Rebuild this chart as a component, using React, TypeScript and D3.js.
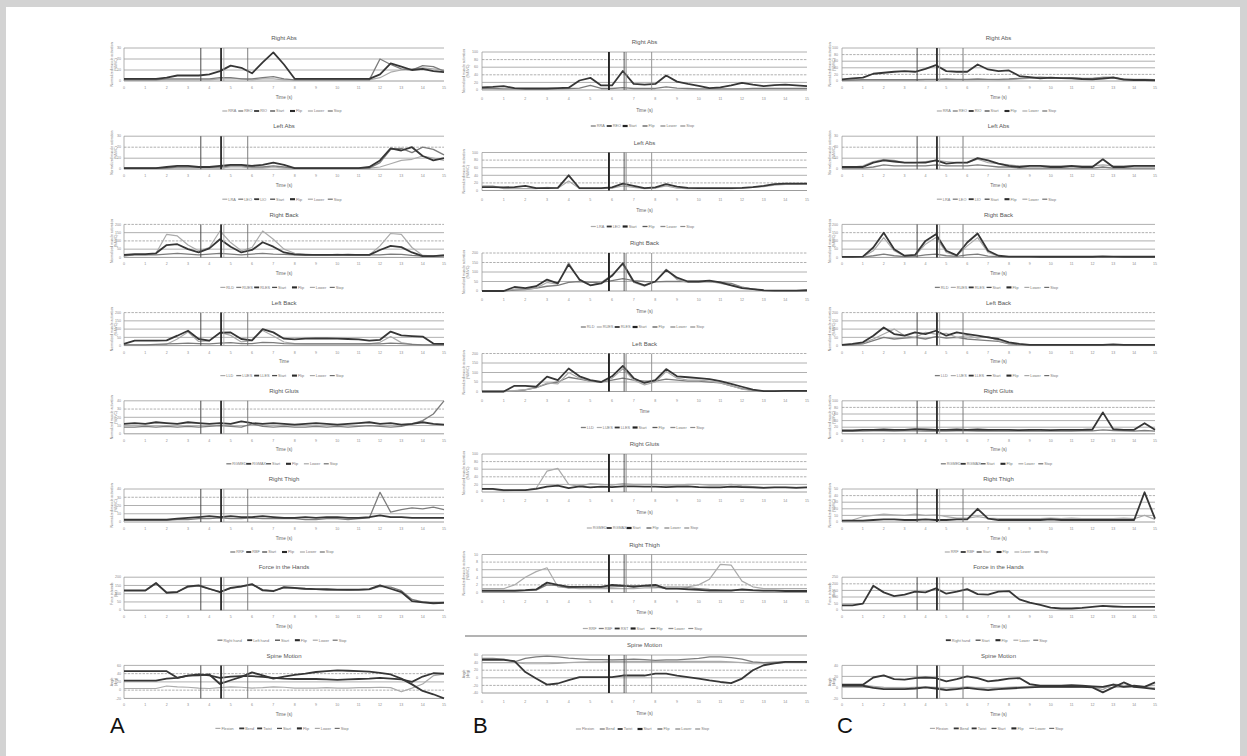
import React from 'react';
import * as d3 from 'd3';

// time base (s) shared by every trace, and the x tick labels
const times = [0, 0.5, 1, 1.5, 2, 2.5, 3, 3.5, 4, 4.5, 5, 5.5, 6, 6.5, 7, 7.5, 8, 8.5, 9, 9.5, 10, 10.5, 11, 11.5, 12, 12.5, 13, 13.5, 14, 14.5, 15];
const xTicks = [0, 1, 2, 3, 4, 5, 6, 7, 8, 9, 10, 11, 12, 13, 14, 15];

// lift events: Start, Flip, Lower, Stop
const eventNames = ['Start', 'Flip', 'Lower', 'Stop'];
const eventsAC = [3.6, 4.55, 4.68, 5.8];
const eventsB = [5.86, 6.56, 6.65, 7.83];

// ---- column A ----
const aRAbs1 = [2, 2, 2, 2, 3, 5, 5, 5, 6, 9, 14, 12, 7, 17, 26, 15, 2, 2, 2, 2, 2, 2, 2, 2, 6, 16, 13, 10, 11, 9, 8];
const aRAbs2 = [1, 1, 1, 1, 2, 2, 2, 2, 2, 3, 3, 2, 2, 3, 4, 2, 1, 1, 1, 1, 1, 1, 1, 1, 20, 15, 11, 10, 14, 13, 9];
const aRAbs3 = [1, 1, 1, 1, 1, 1, 1, 1, 1, 2, 2, 2, 1, 2, 2, 1, 1, 1, 1, 1, 1, 1, 1, 1, 3, 8, 10, 11, 12, 11, 10];
const aLAbs1 = [1, 1, 1, 1, 2, 3, 3, 2, 2, 3, 4, 4, 3, 4, 6, 4, 1, 1, 1, 1, 1, 1, 1, 2, 8, 19, 17, 20, 12, 8, 10];
const aLAbs2 = [1, 1, 1, 1, 1, 2, 2, 2, 2, 2, 3, 3, 2, 2, 3, 2, 1, 1, 1, 1, 1, 1, 1, 1, 6, 18, 19, 15, 20, 18, 13];
const aLAbs3 = [1, 1, 1, 1, 1, 1, 1, 1, 1, 1, 2, 2, 1, 1, 2, 1, 1, 1, 1, 1, 1, 1, 1, 1, 2, 5, 8, 9, 12, 10, 8];
const aRBack1 = [10, 15, 15, 25, 140, 130, 75, 40, 60, 160, 90, 40, 60, 160, 110, 50, 25, 20, 15, 15, 15, 20, 15, 15, 70, 145, 140, 60, 12, 10, 15];
const aRBack2 = [15, 20, 20, 25, 75, 80, 50, 30, 55, 110, 65, 30, 45, 92, 65, 30, 18, 15, 15, 15, 15, 15, 15, 15, 45, 70, 62, 30, 8, 8, 12];
const aRBack3 = [10, 15, 15, 15, 20, 25, 20, 15, 20, 25, 20, 15, 20, 25, 20, 18, 15, 15, 15, 15, 18, 15, 15, 15, 15, 20, 18, 12, 8, 8, 10];
const aLBack1 = [10, 30, 30, 30, 32, 60, 90, 40, 30, 78, 80, 40, 32, 100, 80, 42, 38, 42, 44, 43, 42, 40, 38, 30, 35, 85, 62, 58, 55, 12, 10];
const aLBack2 = [5, 5, 5, 5, 8, 40, 82, 25, 28, 80, 62, 22, 30, 92, 58, 22, 12, 10, 10, 10, 10, 10, 10, 10, 20, 55, 18, 8, 5, 5, 5];
const aLBack3 = [5, 5, 5, 8, 10, 12, 15, 12, 10, 15, 18, 12, 12, 20, 18, 12, 10, 10, 10, 10, 10, 10, 10, 12, 10, 15, 12, 8, 5, 5, 5];
const aRGlut1 = [12, 13, 12, 14, 13, 12, 14, 13, 12, 13, 12, 15, 13, 12, 13, 12, 11, 12, 13, 12, 11, 12, 13, 14, 12, 13, 11, 12, 14, 12, 11];
const aRGlut2 = [8, 8, 9, 8, 9, 8, 9, 8, 9, 10, 9, 8, 12, 9, 8, 9, 8, 8, 9, 8, 9, 8, 9, 10, 9, 8, 9, 12, 16, 24, 40];
const aRThigh1 = [3, 3, 3, 3, 3, 4, 5, 6, 7, 6, 7, 6, 6, 7, 6, 5, 5, 6, 5, 6, 6, 5, 5, 6, 8, 6, 6, 5, 5, 5, 5];
const aRThigh2 = [2, 2, 2, 2, 2, 3, 3, 4, 4, 5, 4, 4, 5, 4, 4, 4, 4, 3, 3, 4, 4, 3, 4, 5, 36, 12, 15, 17, 16, 18, 15];
const aForce1 = [120, 120, 120, 165, 105, 110, 145, 150, 130, 110, 135, 145, 158, 120, 115, 140, 135, 130, 128, 127, 125, 125, 125, 128, 150, 130, 110, 55, 48, 42, 45];
const aForce2 = [118, 118, 118, 160, 110, 112, 140, 148, 128, 112, 132, 142, 155, 125, 118, 135, 132, 128, 126, 122, 122, 120, 122, 125, 145, 140, 118, 65, 50, 45, 48];
const aSpine1 = [46, 46, 46, 46, 46, 30, 35, 36, 38, 15, 24, 32, 43, 36, 28, 33, 37, 40, 44, 46, 48, 47, 46, 45, 42, 38, 28, 14, -2, -10, -20];
const aSpine2 = [23, 23, 23, 23, 28, 30, 35, 38, 36, 30, 33, 34, 34, 32, 30, 28, 27, 27, 27, 26, 25, 26, 27, 28, 30, 28, 26, 20, 33, 41, 40];
const aSpine3 = [4, 4, 4, 4, 10, 8, 7, 5, 4, 6, 8, 7, 5, 6, 8, 7, 5, 5, 5, 6, 5, 5, 6, 6, 7, 6, -4, 5, 15, 35, 39];

// ---- column B ----
const bRAbs1 = [7, 8, 10, 5, 4, 4, 4, 5, 6, 25, 32, 12, 12, 50, 16, 14, 16, 38, 22, 16, 11, 5, 7, 12, 19, 14, 10, 13, 14, 12, 10];
const bRAbs2 = [4, 4, 3, 3, 3, 3, 3, 3, 4, 5, 12, 4, 4, 6, 4, 4, 4, 8, 5, 4, 3, 3, 3, 3, 3, 4, 4, 4, 4, 4, 4];
const bLAbs1 = [9, 9, 8, 9, 12, 6, 6, 7, 40, 6, 6, 6, 8, 18, 12, 6, 8, 17, 10, 7, 6, 6, 6, 6, 7, 9, 12, 17, 18, 18, 18];
const bLAbs2 = [12, 12, 5, 5, 5, 5, 8, 6, 25, 5, 5, 5, 6, 12, 8, 5, 6, 12, 6, 5, 5, 5, 5, 5, 6, 8, 10, 14, 16, 16, 17];
const bRBack1 = [0, 0, 0, 21, 15, 25, 60, 40, 140, 60, 30, 40, 80, 146, 50, 30, 50, 110, 70, 50, 50, 55, 45, 30, 15, 10, 4, 2, 2, 2, 4];
const bRBack2 = [0, 0, 0, 10, 10, 15, 45, 35, 150, 55, 30, 45, 85, 140, 45, 25, 50, 115, 60, 45, 45, 50, 40, 30, 20, 10, 3, 2, 2, 2, 3];
const bRBack3 = [0, 0, 0, 5, 8, 15, 25, 30, 45, 50, 45, 45, 55, 65, 55, 50, 48, 50, 50, 50, 50, 48, 45, 40, 20, 10, 3, 2, 2, 2, 2];
const bLBack1 = [0, 0, 0, 30, 30, 25, 78, 60, 121, 80, 60, 50, 80, 135, 70, 45, 60, 118, 80, 75, 70, 65, 55, 40, 25, 10, 2, 2, 3, 3, 3];
const bLBack2 = [0, 0, 0, 5, 10, 20, 45, 40, 100, 70, 55, 50, 70, 120, 60, 35, 50, 105, 70, 60, 60, 55, 45, 30, 12, 4, 1, 1, 1, 1, 1];
const bLBack3 = [0, 0, 0, 3, 8, 20, 40, 50, 75, 65, 55, 50, 60, 70, 60, 55, 55, 65, 60, 55, 55, 50, 45, 30, 15, 6, 2, 2, 2, 2, 2];
const bRGlut1 = [8, 7, 3, 4, 5, 10, 55, 62, 20, 15, 22, 20, 18, 22, 20, 20, 20, 18, 18, 20, 20, 18, 18, 20, 16, 14, 12, 12, 12, 12, 12];
const bRGlut2 = [8, 8, 5, 5, 5, 8, 14, 17, 10, 15, 12, 14, 13, 15, 15, 14, 14, 13, 14, 15, 13, 12, 12, 14, 13, 12, 11, 12, 12, 11, 12];
const bRThigh1 = [1, 1, 1, 2, 4, 5.5, 6.5, 1.5, 1.2, 1, 1, 1, 1, 1, 1, 1.2, 1.2, 1.5, 1.5, 1.5, 2, 3.5, 7.4, 7.2, 3, 1.5, 1, 1, 1, 1, 1];
const bRThigh2 = [0.5, 0.5, 0.5, 0.5, 0.6, 0.8, 2.6, 2, 1.5, 1.5, 1.5, 1.5, 2, 1.8, 1.5, 1.8, 2, 1, 1, 0.8, 0.7, 0.5, 0.5, 0.5, 0.8, 0.6, 0.5, 0.5, 0.4, 0.4, 0.4];
const bRThigh3 = [0.4, 0.4, 0.4, 0.4, 0.5, 0.6, 2, 1.8, 1.2, 1.5, 1.6, 1.4, 1.5, 1.6, 1.8, 1.7, 1.5, 1, 1, 1.2, 1, 0.8, 0.7, 0.6, 0.6, 0.5, 0.5, 0.5, 0.5, 0.5, 0.5];
const bSpine1 = [47, 47, 47, 44, 15, -2, -18, -15, -6, 2, 2, 2, 2, 6, 6, 6, 11, 11, 6, 2, -2, -7, -11, -14, -2, 20, 33, 38, 42, 42, 42];
const bSpine2 = [51, 51, 49, 42, 51, 55, 57, 55, 52, 50, 48, 48, 47, 48, 49, 48, 46, 47, 47, 49, 51, 55, 55, 53, 49, 42, 40, 41, 42, 42, 42];
const bSpine3 = [40, 40, 40, 40, 37, 37, 37, 38, 40, 41, 42, 42, 43, 43, 43, 43, 43, 43, 43, 43, 43, 43, 43, 42, 40, 37, 37, 38, 40, 40, 40];

// ---- column C ----
const cRAbs1 = [5, 8, 10, 22, 25, 28, 30, 28, 37, 48, 30, 28, 28, 50, 35, 30, 32, 15, 12, 8, 10, 9, 8, 6, 5, 7, 10, 4, 3, 3, 2];
const cRAbs2 = [2, 3, 4, 4, 4, 4, 4, 4, 5, 5, 6, 5, 5, 6, 5, 5, 6, 8, 10, 12, 10, 9, 10, 8, 8, 10, 12, 6, 5, 5, 4];
const cRAbs3 = [1, 2, 2, 2, 2, 2, 2, 2, 3, 3, 4, 3, 3, 4, 4, 3, 4, 6, 8, 9, 8, 8, 8, 7, 7, 12, 10, 5, 4, 4, 3];
const cLAbs1 = [2, 2, 2, 6, 8, 7, 6, 6, 6, 8, 5, 6, 6, 10, 8, 5, 3, 2, 3, 3, 2, 2, 3, 2, 2, 9, 2, 2, 3, 3, 3];
const cLAbs2 = [2, 2, 3, 7, 9, 8, 6, 6, 7, 8, 7, 6, 6, 9, 6, 5, 4, 3, 3, 3, 3, 3, 3, 3, 3, 4, 3, 3, 3, 3, 3];
const cLAbs3 = [1, 1, 1, 2, 4, 3, 3, 3, 3, 4, 3, 3, 3, 4, 3, 2, 2, 1, 1, 1, 1, 1, 1, 1, 1, 2, 1, 1, 1, 1, 1];
const cRBack1 = [3, 3, 5, 60, 150, 50, 10, 15, 100, 140, 40, 12, 90, 145, 40, 10, 5, 5, 5, 4, 4, 4, 4, 4, 4, 6, 5, 4, 4, 4, 4];
const cRBack2 = [2, 2, 3, 40, 120, 40, 8, 10, 80, 120, 30, 10, 70, 120, 30, 8, 4, 4, 4, 3, 3, 3, 3, 3, 3, 4, 4, 3, 3, 3, 3];
const cRBack3 = [2, 2, 2, 10, 20, 10, 5, 6, 15, 20, 10, 6, 15, 20, 8, 5, 3, 3, 3, 3, 3, 3, 3, 3, 3, 3, 3, 3, 3, 3, 3];
const cLBack1 = [5, 10, 20, 60, 110, 70, 60, 80, 70, 90, 60, 80, 70, 60, 50, 40, 20, 10, 5, 5, 5, 5, 5, 5, 5, 5, 8, 5, 5, 5, 5];
const cLBack2 = [5, 8, 15, 40, 70, 100, 60, 50, 80, 70, 75, 50, 60, 45, 55, 30, 15, 8, 5, 5, 5, 5, 5, 5, 5, 5, 5, 5, 5, 5, 5];
const cLBack3 = [3, 5, 10, 30, 50, 40, 45, 50, 40, 55, 45, 50, 40, 35, 30, 25, 10, 6, 4, 4, 4, 4, 4, 4, 4, 4, 4, 4, 4, 4, 4];
const cRGlut1 = [10, 10, 12, 12, 13, 12, 12, 14, 13, 12, 12, 13, 12, 13, 12, 12, 12, 11, 12, 12, 11, 12, 12, 12, 13, 65, 14, 12, 12, 32, 12];
const cRGlut2 = [8, 8, 8, 9, 9, 8, 9, 9, 8, 9, 8, 9, 9, 8, 9, 8, 8, 8, 9, 8, 8, 8, 8, 9, 9, 12, 10, 9, 8, 10, 8];
const cRThigh1 = [2, 2, 2, 3, 4, 4, 3, 3, 4, 3, 3, 4, 4, 20, 5, 3, 3, 3, 3, 3, 4, 3, 3, 3, 3, 3, 3, 3, 3, 45, 5];
const cRThigh2 = [2, 3, 8, 10, 12, 11, 10, 12, 10, 11, 8, 6, 6, 8, 6, 5, 5, 5, 5, 5, 6, 5, 6, 5, 5, 5, 5, 6, 5, 10, 4];
const cForce1 = [37, 37, 50, 185, 135, 107, 118, 140, 135, 165, 125, 140, 160, 122, 118, 140, 145, 82, 57, 40, 20, 13, 13, 17, 25, 32, 28, 25, 25, 25, 25];
const cSpine1 = [5, 5, 5, 18, 22, 15, 14, 17, 18, 17, 11, 15, 20, 17, 11, 13, 16, 17, 6, 3, 3, 3, 4, 3, 2, 1, 5, 1, 3, 1, 9];
const cSpine2 = [3, 3, 3, -1, -3, -3, -3, -2, 0, -2, -5, -3, -1, -3, -5, -3, -2, -1, 0, 1, 1, 1, 1, 1, 0, -9, 0, 9, 1, -1, -3];
const cSpine3 = [4, 4, 4, 2, 0, -1, -1, 0, 1, 0, -3, -1, 1, -1, -3, -1, 0, 1, 2, 3, 3, 2, 2, 2, 1, -4, 6, 4, 3, 2, 4];

const EMG = ['Normalized muscle activation', '(%MVC)'];
const FORCE = ['Force in hands', '(lbs)'];
const ANGLE = ['Angle', '(deg)'];

// line tones: 0 dark, 1 mid, 2 light
const tones = [
  { c: '#363636', w: 1.8 },
  { c: '#7c7c7c', w: 1.3 },
  { c: '#ababab', w: 1.2 },
];
// event line styles (Start, Flip, Lower, Stop) for columns A/C and B
const eventStyleAC = [
  { c: '#4a4a4a', w: 1.0 },
  { c: '#2a2a2a', w: 1.8 },
  { c: '#a8a8a8', w: 0.9 },
  { c: '#6e6e6e', w: 0.9 },
];
const eventStyleB = [
  { c: '#222222', w: 1.9 },
  { c: '#5a5a5a', w: 1.0 },
  { c: '#8a8a8a', w: 1.0 },
  { c: '#8a8a8a', w: 0.9 },
];

type Series = { name: string; values: number[]; tone: number };
type Panel = {
  title: string;
  ylabel: string[];
  domain: [number, number];
  step: number;
  dashed: number[];
  series: Series[];
  xlabel?: string;
};

const s = (name: string, values: number[], tone: number): Series => ({ name, values, tone });

const colA: Panel[] = [
  { title: 'Right Abs', ylabel: EMG, domain: [0, 30], step: 10, dashed: [], series: [s('RRA', aRAbs3, 2), s('REO', aRAbs2, 1), s('RIO', aRAbs1, 0)] },
  { title: 'Left Abs', ylabel: EMG, domain: [0, 30], step: 10, dashed: [20], series: [s('LRA', aLAbs3, 2), s('LEO', aLAbs2, 1), s('LIO', aLAbs1, 0)] },
  { title: 'Right Back', ylabel: EMG, domain: [0, 200], step: 50, dashed: [200, 100], series: [s('RLD', aRBack1, 2), s('RUES', aRBack3, 1), s('RLES', aRBack2, 0)] },
  { title: 'Left Back', ylabel: EMG, domain: [0, 200], step: 50, dashed: [200], xlabel: 'Time', series: [s('LLD', aLBack2, 2), s('LUES', aLBack3, 1), s('LLES', aLBack1, 0)] },
  { title: 'Right Gluts', ylabel: EMG, domain: [0, 40], step: 10, dashed: [30], series: [s('RGMED', aRGlut2, 1), s('RGMAX', aRGlut1, 0)] },
  { title: 'Right Thigh', ylabel: EMG, domain: [0, 40], step: 10, dashed: [30], series: [s('RRF', aRThigh2, 1), s('RBF', aRThigh1, 0)] },
  { title: 'Force in the Hands', ylabel: FORCE, domain: [0, 200], step: 50, dashed: [], series: [s('Right hand', aForce2, 1), s('Left hand', aForce1, 0)] },
  { title: 'Spine Motion', ylabel: ANGLE, domain: [-20, 60], step: 20, dashed: [40, 0], series: [s('Flexion', aSpine3, 2), s('Bend', aSpine2, 0), s('Twist', aSpine1, 0)] },
];

const colB: Panel[] = [
  { title: 'Right Abs', ylabel: EMG, domain: [0, 100], step: 20, dashed: [80, 40], series: [s('RRA', bRAbs2, 1), s('REO', bRAbs1, 0)] },
  { title: 'Left Abs', ylabel: EMG, domain: [0, 100], step: 20, dashed: [80, 20], series: [s('LRA', bLAbs2, 2), s('LEO', bLAbs1, 0)] },
  { title: 'Right Back', ylabel: EMG, domain: [0, 200], step: 50, dashed: [200, 150], series: [s('RLD', bRBack3, 1), s('RUES', bRBack2, 2), s('RLES', bRBack1, 0)] },
  { title: 'Left Back', ylabel: EMG, domain: [0, 200], step: 50, dashed: [200], xlabel: 'Time', series: [s('LLD', bLBack3, 1), s('LUES', bLBack2, 2), s('LLES', bLBack1, 0)] },
  { title: 'Right Gluts', ylabel: EMG, domain: [0, 100], step: 20, dashed: [80, 40], series: [s('RGMED', bRGlut1, 2), s('RGMAX', bRGlut2, 0)] },
  { title: 'Right Thigh', ylabel: EMG, domain: [0, 10], step: 2, dashed: [8, 2], series: [s('RRF', bRThigh1, 2), s('RBF', bRThigh3, 1), s('RST', bRThigh2, 0)] },
  { title: 'Spine Motion', ylabel: ANGLE, domain: [-40, 60], step: 20, dashed: [20, -20], series: [s('Flexion', bSpine3, 2), s('Bend', bSpine2, 1), s('Twist', bSpine1, 0)] },
];

const colC: Panel[] = [
  { title: 'Right Abs', ylabel: EMG, domain: [0, 100], step: 20, dashed: [80, 20], series: [s('RRA', cRAbs3, 2), s('REO', cRAbs2, 1), s('RIO', cRAbs1, 0)] },
  { title: 'Left Abs', ylabel: EMG, domain: [0, 30], step: 10, dashed: [20], series: [s('LRA', cLAbs2, 2), s('LEO', cLAbs3, 1), s('LIO', cLAbs1, 0)] },
  { title: 'Right Back', ylabel: EMG, domain: [0, 200], step: 50, dashed: [150], series: [s('RLD', cRBack3, 1), s('RUES', cRBack2, 2), s('RLES', cRBack1, 0)] },
  { title: 'Left Back', ylabel: EMG, domain: [0, 200], step: 50, dashed: [200], series: [s('LLD', cLBack3, 1), s('LUES', cLBack2, 2), s('LLES', cLBack1, 0)] },
  { title: 'Right Gluts', ylabel: EMG, domain: [0, 100], step: 20, dashed: [80], series: [s('RGMED', cRGlut2, 1), s('RGMAX', cRGlut1, 0)] },
  { title: 'Right Thigh', ylabel: EMG, domain: [0, 50], step: 10, dashed: [40], series: [s('RRF', cRThigh2, 2), s('RBF', cRThigh1, 0)] },
  { title: 'Force in the Hands', ylabel: FORCE, domain: [0, 250], step: 50, dashed: [200], series: [s('Right hand', cForce1, 0)] },
  { title: 'Spine Motion', ylabel: ANGLE, domain: [-20, 40], step: 20, dashed: [], series: [s('Flexion', cSpine3, 2), s('Bend', cSpine2, 0), s('Twist', cSpine1, 0)] },
];

type Column = {
  panels: Panel[];
  x0: number;
  x1: number;
  top: number;
  gap: number;
  plotTop: number;
  plotBottom: number;
  tickDy: number;
  timeDy: number;
  legendDy: number;
  tickDx: number;
  labelDx: number;
  events: number[];
  eventStyle: { c: string; w: number }[];
  letter: string;
  letterX: number;
};

const columns: Column[] = [
  { panels: colA, x0: 124, x1: 444, top: 38, gap: 88.2, plotTop: 10, plotBottom: 43, tickDy: 51, timeDy: 59, legendDy: 73, tickDx: 3, labelDx: 10, events: eventsAC, eventStyle: eventStyleAC, letter: 'A', letterX: 110 },
  { panels: colB, x0: 482, x1: 807, top: 42, gap: 100.5, plotTop: 10, plotBottom: 48, tickDy: 58, timeDy: 68, legendDy: 84, tickDx: 4, labelDx: 16, events: eventsB, eventStyle: eventStyleB, letter: 'B', letterX: 473 },
  { panels: colC, x0: 842, x1: 1155, top: 38, gap: 88.2, plotTop: 10, plotBottom: 43, tickDy: 51, timeDy: 59, legendDy: 73, tickDx: 4, labelDx: 10, events: eventsAC, eventStyle: eventStyleAC, letter: 'C', letterX: 837 },
];

const FONT = '"Liberation Sans", Arial, sans-serif';
const GRID = '#9c9c9c';

const Legend = ({ p, col, cx, y }: { p: Panel; col: Column; cx: number; y: number }) => {
  const fs = 3.8;
  const items = [
    ...p.series.map(d => ({ name: d.name, c: tones[d.tone].c, w: tones[d.tone].w })),
    ...eventNames.map((n, i) => ({ name: n, c: col.eventStyle[i].c, w: col.eventStyle[i].w + 0.3 })),
  ];
  const widths = items.map(it => 6 + it.name.length * fs * 0.52 + 4);
  const total = d3.sum(widths);
  let x = cx - total / 2;
  return (
    <g>
      {items.map((it, i) => {
        const x0 = x;
        x += widths[i];
        return (
          <g key={i}>
            <line x1={x0} x2={x0 + 5} y1={y} y2={y} stroke={it.c} strokeWidth={it.w} />
            <text x={x0 + 6} y={y} dy="0.35em" fontSize={fs} fill="#7a7a7a">{it.name}</text>
          </g>
        );
      })}
    </g>
  );
};

const PanelView = ({ p, col, idx }: { p: Panel; col: Column; idx: number }) => {
  const t = col.top + idx * col.gap;
  const yTop = t + col.plotTop;
  const yBot = t + col.plotBottom;
  const x = d3.scaleLinear().domain([0, 15]).range([col.x0, col.x1]);
  const y = d3.scaleLinear().domain(p.domain).range([yBot, yTop]);
  const grid = d3.range(p.domain[0], p.domain[1] + p.step / 2, p.step);
  const line = d3
    .line<number>()
    .x((_, i) => x(times[i]))
    .y(v => y(v));
  const cx = (col.x0 + col.x1) / 2;
  return (
    <g>
      <text x={cx} y={t} textAnchor="middle" dy="0.35em" fontSize={6} fill="#555">{p.title}</text>
      {grid.map(g => (
        <line
          key={g}
          x1={col.x0}
          x2={col.x1}
          y1={y(g)}
          y2={y(g)}
          stroke={GRID}
          strokeWidth={g === p.domain[0] ? 1 : 0.8}
          strokeDasharray={p.dashed.includes(g) ? '2.5,1.2' : undefined}
        />
      ))}
      <line x1={col.x0} x2={col.x0} y1={yTop} y2={yBot} stroke={GRID} strokeWidth={0.8} />
      {grid.map(g => (
        <text key={g} x={col.x0 - col.tickDx} y={y(g)} dy="0.35em" textAnchor="end" fontSize={3.6} fill="#8a8a8a">{g}</text>
      ))}
      {xTicks.map(v => (
        <text key={v} x={x(v)} y={t + col.tickDy} textAnchor="middle" fontSize={3.6} fill="#8a8a8a">{v}</text>
      ))}
      <text
        transform={`translate(${col.x0 - col.labelDx},${(yTop + yBot) / 2}) rotate(-90)`}
        textAnchor="middle"
        fontSize={3.4}
        fill="#777"
      >
        {p.ylabel.map((l, i) => (
          <tspan key={i} x={0} dy={i === 0 ? -1.5 : 4}>{l}</tspan>
        ))}
      </text>
      {p.series.map((d, i) => (
        <path
          key={i}
          d={line(d.values) || ''}
          fill="none"
          stroke={tones[d.tone].c}
          strokeWidth={tones[d.tone].w}
          strokeLinejoin="round"
        />
      ))}
      {col.events.map((e, i) => (
        <line key={i} x1={x(e)} x2={x(e)} y1={yTop} y2={yBot} stroke={col.eventStyle[i].c} strokeWidth={col.eventStyle[i].w} />
      ))}
      <text x={cx} y={t + col.timeDy} textAnchor="middle" dy="0.35em" fontSize={4.6} fill="#666">{p.xlabel || 'Time (s)'}</text>
      <Legend p={p} col={col} cx={cx} y={t + col.legendDy} />
    </g>
  );
};

export default function App() {
  const W = 1247;
  const H = 756;
  return (
    <svg
      width={W}
      height={H}
      style={{ position: 'absolute', left: 0, top: 0, display: 'block' }}
      fontFamily={FONT}
    >
      <rect x={0} y={0} width={W} height={H} fill="#d3d3d3" />
      <rect x={6} y={7} width={W - 13} height={H - 7} fill="#ffffff" />
      {columns.map((col, ci) => (
        <g key={ci}>
          {col.panels.map((p, i) => (
            <PanelView key={i} p={p} col={col} idx={i} />
          ))}
          <text x={col.letterX} y={733} fontSize={22} fill="#111" fontFamily={FONT}>{col.letter}</text>
        </g>
      ))}
      <line x1={465} x2={807} y1={636} y2={636} stroke="#9a9a9a" strokeWidth={1.4} />
    </svg>
  );
}
